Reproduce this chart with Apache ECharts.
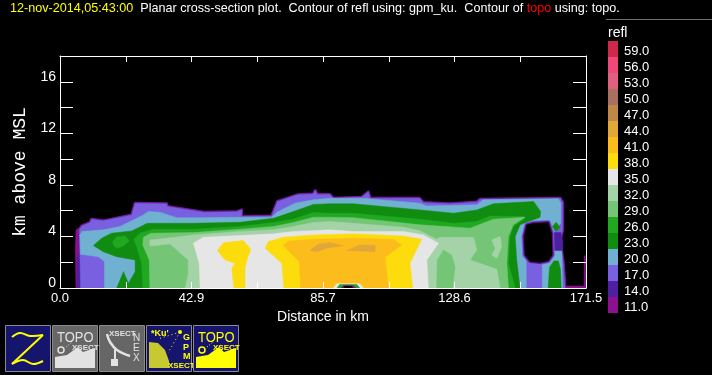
<!DOCTYPE html>
<html>
<head>
<meta charset="utf-8">
<style>
  html, body { margin: 0; background: #000; }
  #chart { width: 712px; height: 375px; }
</style>
<script src="https://cdn.jsdelivr.net/npm/echarts@6/dist/echarts.min.js"></script>
</head>
<body>
<div id="chart"></div>
<script>
// axis ticks
const xTickLabels = ['0.0', '', '42.9', '', '85.7', '', '128.6', '', '171.5'];
const legendLevels = ['11.0', '14.0', '17.0', '20.0', '23.0', '26.0', '29.0', '32.0', '35.0', '38.0', '41.0', '44.0', '47.0', '50.0', '53.0', '56.0', '59.0'];
const legendColors = ['#8c1090', '#4c20a0', '#7860e0', '#70b0d0', '#108c10', '#20a820', '#74c676', '#a5d3a8', '#e6e6e6', '#fcdc0c', '#fcbc1c', '#e0a838', '#c08848', '#a87060', '#e06080', '#f04878', '#d0284a'];

// contour outlines, [distance km, height km]
const refl11Left = [[5.2, 0], [5.0, 3.0], [5.2, 4.5], [7, 4.8], [7, 0]];
const refl11Tail = [[164.7, 0], [164.7, 0.15], [170.9, 0.15], [170.9, 2.5], [171.3, 2.5], [171.5, 0]];
const refl14Left = [[5.5, 0], [5.7, 2.6], [6.8, 2.6], [6.8, 0]];
const refl14Blob = [[160.6, 4.3], [163.3, 4.3], [164, 3.6], [163.8, 2.9], [160.6, 2.9]];
const refl17 = [[6.7, 0], [6.5, 2.43], [6.3, 4.51], [7.1, 4.82], [9.8, 5.08], [10.3, 5.34], [14.1, 5.21], [23.4, 5.67], [24.5, 6.58], [34.8, 6.53], [35, 6.32], [47, 5.88], [57.6, 5.91], [59.2, 6.06], [59.2, 5.54], [69, 5.59], [70.9, 6.71], [77.4, 7.23], [82.6, 7.3], [83.2, 7.56], [83.9, 7.25], [88, 7.25], [89.1, 6.97], [98.4, 7.04], [100.5, 7.46], [101.1, 6.97], [117.2, 6.97], [118.5, 6.63], [127.2, 6.53], [135.9, 6.68], [137, 6.89], [163.1, 6.97], [163.9, 6.63], [163.9, 4.51], [163.1, 3.73], [164.1, 1.92], [164.7, 0]];
const refl17Under = [[152.2, 0], [152.2, 2.3], [157.1, 2.3], [157.1, 0]];
const refl20 = [[14.5, 0], [14.5, 2.05], [12.5, 2.43], [6.7, 2.62], [6.5, 4.12], [7.1, 4.38], [14.1, 4.51], [19.6, 4.77], [22.8, 5.15], [27.2, 5.67], [28.8, 5.93], [32.6, 5.88], [38, 5.46], [46.7, 5.46], [58.7, 5.49], [69, 5.49], [70.7, 5.88], [76.6, 6.58], [82.6, 6.84], [88, 6.97], [98.4, 6.97], [117.4, 6.58], [119.6, 6.37], [135.9, 6.45], [138, 6.84], [162.5, 6.92], [163.3, 6.58], [163.3, 5.02], [160.9, 4.51], [163.6, 2.95], [163.9, 0]];
const refl23 = [[18.5, 0], [20.7, 1.27], [22.3, 0.36], [24.5, 1.27], [24.5, 2.18], [18.5, 2.43], [14.1, 2.82], [10.9, 3.29], [13.6, 3.86], [16.8, 4.25], [23.4, 4.43], [28.5, 5.02], [43.5, 5.02], [58.7, 5.1], [69.6, 5.41], [76.1, 5.93], [82.6, 6.48], [88, 6.53], [95.7, 6.53], [117.4, 6.06], [128.3, 5.8], [135.9, 6.06], [141.3, 6.53], [154.4, 6.71], [156.7, 5.93], [156.5, 5.49], [150, 4.9], [148.4, 3.99], [148.9, 2.18], [150, 0]];
const refl23Right = [[159.2, 0], [159.6, 1.6], [161, 2.1], [162.5, 2.1], [163.2, 1.4], [163.4, 0]];
const refl23Dot = [[160.4, 4.75], [161.8, 5.1], [163, 4.7], [161.8, 4.4]];
const refl26 = [[27, 0], [26.6, 1.92], [25, 3.21], [24.1, 3.78], [26.1, 4.25], [30.4, 4.56], [43.5, 4.56], [58.7, 4.77], [69.6, 5.08], [76.1, 5.34], [82.6, 5.85], [88, 5.8], [95.7, 5.8], [117.4, 5.34], [128.3, 5.02], [135.9, 5.15], [140.2, 5.59], [151.1, 5.54], [151.6, 5.41], [147.8, 4.77], [146.7, 3.99], [146.2, 1.92], [148.4, 0]];
const refl26Dot = [[17.2, 3.6], [18.5, 3.98], [21.2, 4.04], [22.6, 3.67], [20.7, 3.26], [18.5, 3.08], [17.4, 3.34]];
const refl29 = [[29.3, 0], [29.1, 2.18], [27, 3.34], [27.2, 3.94], [29.6, 4.25], [43.5, 4.3], [58.7, 4.56], [69.6, 4.77], [76.1, 5.08], [82.6, 5.49], [88, 5.49], [95.7, 5.46], [117.4, 4.9], [133.7, 4.64], [141.3, 5.34], [151.6, 5.49], [147.8, 4.9], [146.2, 3.99], [145.7, 1.92], [146.2, 0]];
const refl32 = [[40.8, 0], [41.8, 1.01], [41.8, 2.18], [35.9, 3.42], [29.3, 3.26], [29.3, 3.73], [37.5, 3.94], [43.5, 4.12], [58.7, 4.38], [69.6, 4.51], [76.1, 4.77], [82.6, 5.08], [88, 5.15], [95.7, 5.02], [112, 4.71], [117.4, 4.45], [122.8, 3.78], [123.9, 3.94], [134.8, 3.94], [135.9, 2.95], [133.7, 2.18], [142.4, 1.45], [143.5, 0]];
const refl29Inner = [[122.8, 0], [123, 2.18], [125, 2.95], [127.7, 2.56], [128.8, 1.66], [128, 0]];
const refl32Patch = [[140.8, 3.73], [143.5, 3.99], [144, 3.21], [142.4, 2.31], [140.8, 2.56], [141.9, 3.08]];
const refl35 = [[45.7, 0], [45.4, 1.92], [43.5, 3.47], [46.7, 3.94], [58.7, 4.07], [69.6, 4.2], [76.1, 4.38], [82.6, 4.45], [88, 4.51], [95.7, 4.38], [112, 4.38], [118.5, 4.12], [123.4, 3.47], [119.6, 2.18], [120.1, 0]];
const refl38Left = [[56.7, 0], [56, 1.53], [57.1, 1.92], [53.8, 2.18], [51.3, 2.9], [53.3, 3.52], [59.8, 3.68], [62.2, 3], [61.1, 2.31], [60.3, 1.53], [60.3, 0]];
const refl38 = [[73, 0], [72.3, 1.92], [66.9, 3.08], [67.9, 3.6], [72.8, 3.94], [82.6, 4.12], [95.7, 4.2], [112, 4.04], [117.9, 3.78], [114.1, 1.92], [115, 0]];
const refl41 = [[78.5, 0], [78, 2.05], [72.8, 3.29], [74.5, 3.65], [82.6, 3.78], [95.7, 3.86], [108.7, 3.78], [111.4, 3.34], [106, 2.38], [107.1, 0]];
const refl44West = [[81.5, 2.9], [84.2, 3.42], [88, 3.52], [92.4, 3.29], [87, 3.08], [83.7, 2.82]];
const refl44East = [[93.5, 2.9], [97.8, 3.34], [102.7, 3.29], [102.7, 2.82]];
const noDataHole = [[152.2, 4.9], [154.4, 5.02], [159.2, 5.08], [160.3, 4.25], [160.5, 2.56], [159.2, 2.12], [156.5, 1.97], [153.3, 2.05], [151.6, 2.56], [151.3, 3.99]];
const topoRing = [[89.1, 0], [90.2, 0.33], [97.8, 0.33], [98.9, 0]];
const topoGreen = [[90.3, 0], [91.2, 0.27], [96.8, 0.27], [97.7, 0]];
const topoPurple = [[91.6, 0], [92.4, 0.2], [95.6, 0.2], [96.4, 0]];
const topoBlack = [[92.4, 0], [92.9, 0.13], [95.1, 0.13], [95.6, 0]];

const colorOf = level => legendColors[legendLevels.indexOf(level)];

// painted in this order, later ones on top
const contours = [
  { points: refl11Left, fill: colorOf('11.0') },
  { points: refl11Tail, fill: colorOf('11.0') },
  { points: refl17, fill: colorOf('11.0'), width: 3 },
  { points: refl17, fill: colorOf('14.0'), width: 1.5 },
  { points: refl14Left, fill: colorOf('14.0') },
  { points: refl17, fill: colorOf('17.0') },
  { points: refl20, fill: colorOf('20.0') },
  { points: refl14Blob, fill: colorOf('14.0') },
  { points: refl17Under, fill: colorOf('17.0') },
  { points: refl23, fill: colorOf('23.0') },
  { points: refl23Right, fill: colorOf('23.0') },
  { points: refl23Dot, fill: colorOf('23.0') },
  { points: refl26, fill: colorOf('26.0') },
  { points: refl26Dot, fill: colorOf('26.0') },
  { points: refl29, fill: colorOf('29.0') },
  { points: refl32, fill: colorOf('32.0') },
  { points: refl29Inner, fill: colorOf('29.0') },
  { points: refl32Patch, fill: colorOf('32.0') },
  { points: refl35, fill: colorOf('35.0') },
  { points: refl38Left, fill: colorOf('38.0') },
  { points: refl38, fill: colorOf('38.0') },
  { points: refl41, fill: colorOf('41.0') },
  { points: refl44West, fill: colorOf('44.0') },
  { points: refl44East, fill: colorOf('44.0') },
  { points: noDataHole, fill: colorOf('17.0'), width: 5 },
  { points: noDataHole, fill: colorOf('14.0'), width: 3 },
  { points: noDataHole, fill: colorOf('11.0'), width: 1.5 },
  { points: noDataHole, fill: '#000' },
  { points: topoRing, fill: '#e6e6e6' },
  { points: topoGreen, fill: colorOf('26.0') },
  { points: topoPurple, fill: colorOf('11.0') },
  { points: topoBlack, fill: '#000' },
];

const FONT = '"Liberation Sans", Arial, sans-serif';
const YELLOW = '#ffff00';
const PALE = '#e2e2e2';
const NAVY = '#15156e';
const GREY = '#666666';

function renderContour(params, api) {
  const c = contours[params.dataIndex];
  return {
    type: 'polygon',
    shape: { points: c.points.map(p => api.coord(p)) },
    style: { fill: c.fill, stroke: c.fill, lineWidth: c.width || 0.5, lineJoin: 'round' },
  };
}

function label(x, y, text, fill, size, bold) {
  return {
    type: 'text', x, y,
    style: { text, fill, font: (bold ? 'bold ' : '') + size + 'px ' + FONT },
  };
}

function topoIcon(color) {
  return [
    Object.assign(label(5, 6, 'TOPO', color, 13), { scaleY: 1.1 }),
    label(20, 19, 'XSECT', color, 8, true),
    { type: 'polygon', shape: { points: [[3, 43], [3, 32], [15, 30], [26, 22], [31, 27], [43, 23], [43, 43]] }, style: { fill: color } },
    { type: 'circle', shape: { cx: 9, cy: 25, r: 3 }, style: { fill: 'none', stroke: color, lineWidth: 1.5 } },
    { type: 'polyline', shape: { points: [[14, 22], [20, 17]] }, style: { stroke: color, lineDash: [1, 2], fill: 'none' } },
  ];
}

function icon(x, background, children) {
  return {
    type: 'group', x, y: 325,
    children: [
      { type: 'rect', shape: { x: 0.5, y: 0.5, width: 45, height: 46 }, style: { fill: background, stroke: '#8a8a8a', lineWidth: 1 } },
    ].concat(children),
  };
}

const zIcon = [
  { type: 'polyline', shape: { points: [[7, 12], [15, 8], [25, 11], [38, 10]], smooth: 0.4 }, style: { stroke: YELLOW, lineWidth: 2, fill: 'none' } },
  { type: 'polyline', shape: { points: [[38, 10], [7, 39]] }, style: { stroke: YELLOW, lineWidth: 2, fill: 'none' } },
  { type: 'polyline', shape: { points: [[7, 39], [18, 35], [28, 39], [38, 36]], smooth: 0.4 }, style: { stroke: YELLOW, lineWidth: 2, fill: 'none' } },
];

const nexIcon = [
  label(10, 5, 'XSECT', PALE, 8, true),
  label(34, 8, 'N', PALE, 10),
  label(34, 18, 'E', PALE, 10),
  label(34, 28, 'X', PALE, 10),
  { type: 'polyline', shape: { points: [[8, 9], [11, 17], [18, 25], [31, 31]], smooth: 0.4 }, style: { stroke: PALE, lineWidth: 2.5, fill: 'none' } },
  { type: 'line', shape: { x1: 16, y1: 23, x2: 16, y2: 36 }, style: { stroke: PALE, lineWidth: 2 } },
  { type: 'rect', shape: { x: 12, y: 34, width: 7, height: 7 }, style: { fill: PALE } },
];

const gpmIcon = [
  label(5, 4, '*Ku\'', YELLOW, 9, true),
  label(37, 8, 'G', YELLOW, 9, true),
  label(37, 18, 'P', YELLOW, 9, true),
  label(37, 27, 'M', YELLOW, 9, true),
  { type: 'polygon', shape: { points: [[3, 17], [12, 18], [19, 25], [23, 36], [23, 43], [3, 43]] }, style: { fill: '#c8c830' } },
  label(22, 37, 'XSECT', YELLOW, 8, true),
  { type: 'circle', shape: { cx: 34, cy: 7, r: 2 }, style: { fill: YELLOW } },
  { type: 'line', shape: { x1: 34, y1: 7, x2: 22, y2: 28 }, style: { stroke: YELLOW, lineDash: [1, 3] } },
  { type: 'line', shape: { x1: 34, y1: 7, x2: 12, y2: 14 }, style: { stroke: YELLOW, lineDash: [1, 3] } },
];

const chart = echarts.init(document.getElementById('chart'), null, { renderer: 'canvas' });
chart.setOption({
  backgroundColor: '#000',
  animation: false,
  title: [
    {
      left: 10, top: 2, padding: 0,
      text: '{y|12-nov-2014,05:43:00}{w|  Planar cross-section plot.  Contour of refl using: gpm_ku.  Contour of }{r|topo}{w| using: topo.}',
      textStyle: {
        fontWeight: 'normal',
        rich: {
          y: { color: YELLOW, fontFamily: FONT, fontSize: 12.6, fontWeight: 'normal' },
          w: { color: '#fff', fontFamily: FONT, fontSize: 12.6, fontWeight: 'normal' },
          r: { color: '#ff0000', fontFamily: FONT, fontSize: 12.6, fontWeight: 'normal' },
        },
      },
    },
    {
      left: 608, top: 26, padding: 0, text: 'refl',
      textStyle: { color: '#fff', fontFamily: FONT, fontSize: 14, fontWeight: 'normal' },
    },
  ],
  grid: [
    { left: 60, top: 56, width: 526, height: 232 },
    { left: 608, top: 41, width: 10, height: 272 },
  ],
  xAxis: [
    {
      type: 'value', min: 0, max: 171.5, interval: 21.4375, z: 5,
      splitLine: { show: false },
      axisLine: { onZero: false, lineStyle: { color: '#fff' } },
      axisTick: { inside: true, length: 6, lineStyle: { color: '#fff' } },
      axisLabel: {
        color: '#fff', fontFamily: FONT, fontSize: 13, margin: 4, showMinLabel: true, showMaxLabel: true,
        formatter: (v, i) => xTickLabels[i],
      },
      name: 'Distance in km', nameLocation: 'middle', nameGap: 20,
      nameTextStyle: { color: '#fff', fontFamily: FONT, fontSize: 14 },
    },
    {
      type: 'value', min: 0, max: 171.5, interval: 21.4375, position: 'top', z: 5,
      splitLine: { show: false },
      axisLine: { onZero: false, lineStyle: { color: '#fff' } },
      axisTick: { inside: true, length: 6, lineStyle: { color: '#fff' } },
      axisLabel: { show: false },
    },
    { type: 'value', gridIndex: 1, min: 0, max: 1, show: false },
  ],
  yAxis: [
    {
      type: 'value', min: 0, max: 18, interval: 2, z: 5,
      splitLine: { show: false },
      axisLine: { onZero: false, lineStyle: { color: '#fff' } },
      axisTick: { inside: true, length: 13, lineStyle: { color: '#fff' } },
      axisLabel: {
        color: '#fff', fontFamily: FONT, fontSize: 14, margin: 4, verticalAlign: 'bottom', lineHeight: 10,
        showMinLabel: true, formatter: v => (v % 4 === 0 ? String(v) : ''),
      },
      name: 'km above MSL', nameLocation: 'middle', nameGap: 31, nameRotate: 90,
      nameTextStyle: { color: '#fff', fontFamily: '"Liberation Mono", monospace', fontSize: 18 },
    },
    {
      type: 'value', min: 0, max: 18, interval: 2, position: 'right', z: 5,
      splitLine: { show: false },
      axisLine: { onZero: false, lineStyle: { color: '#fff' } },
      axisTick: { inside: true, length: 13, lineStyle: { color: '#fff' } },
      axisLabel: { show: false },
    },
    {
      type: 'category', gridIndex: 1, data: legendLevels, position: 'right',
      axisLine: { show: false },
      axisTick: { show: false },
      axisLabel: { color: '#fff', fontFamily: FONT, fontSize: 13, margin: 6, interval: 0, verticalAlign: 'top', lineHeight: 4 },
    },
  ],
  series: [
    {
      type: 'custom',
      xAxisIndex: 0,
      yAxisIndex: 0,
      clip: true,
      silent: true,
      renderItem: renderContour,
      data: contours.map((c, i) => [c.points[0][0], c.points[0][1], i]),
    },
    {
      type: 'bar',
      xAxisIndex: 2,
      yAxisIndex: 2,
      barWidth: '100%',
      silent: true,
      data: legendLevels.map((level, i) => ({ value: 1, itemStyle: { color: legendColors[i] } })),
    },
  ],
  graphic: [
    { type: 'line', shape: { x1: 606, y1: 19.5, x2: 712, y2: 19.5 }, style: { stroke: '#6e6e6e', lineWidth: 1 } },
    icon(5, NAVY, zIcon),
    icon(52, GREY, topoIcon(PALE)),
    icon(99, GREY, nexIcon),
    icon(146, NAVY, gpmIcon),
    icon(193, NAVY, topoIcon(YELLOW)),
  ],
});
</script>
</body>
</html>
